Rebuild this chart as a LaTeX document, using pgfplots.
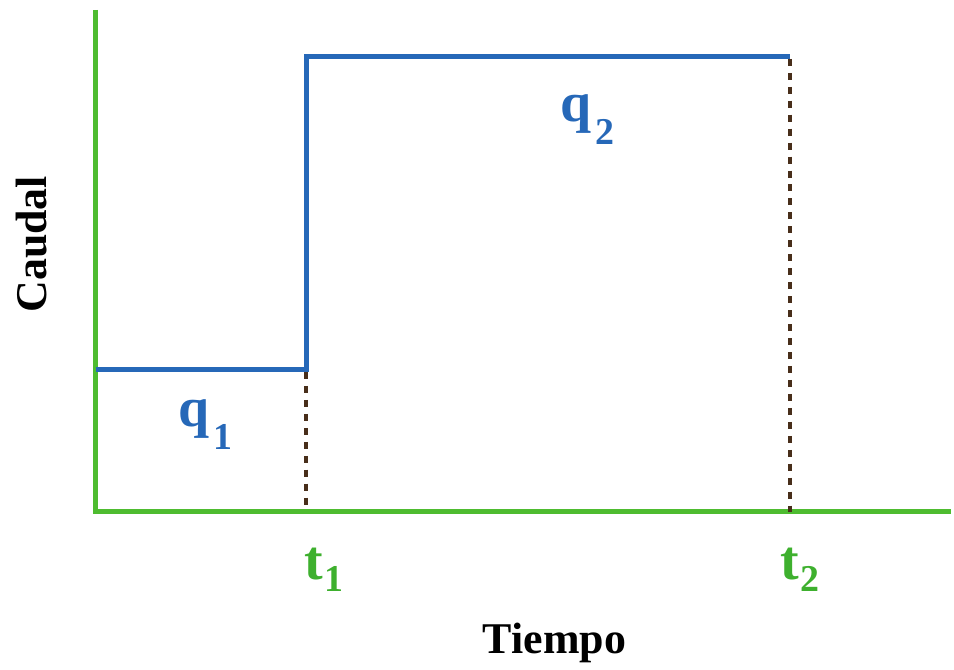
\documentclass[border=0pt]{standalone}
\usepackage{pgfplots}
\pgfplotsset{compat=1.18}
\usepackage{fontspec}
\setmainfont{Liberation Serif}
\definecolor{ejeverde}{RGB}{78,188,48}
\definecolor{etiqverde}{RGB}{62,176,46}
\definecolor{caudalazul}{RGB}{38,104,184}
\definecolor{marron}{RGB}{72,46,26}
\newcommand{\qsub}[1]{q\hspace{2pt}\raisebox{-0.42em}{\fontsize{19}{19}\selectfont #1}}
\newcommand{\tsub}[1]{t\hspace{0.5pt}\raisebox{-0.22em}{\fontsize{19}{19}\selectfont #1}}
\begin{document}
\begin{tikzpicture}
\begin{axis}[
    width=477pt, height=335.5pt,
    scale only axis,
    axis lines=none,
    xmin=0, xmax=954,
    ymin=0, ymax=671,
    clip=false,
]
\path (axis cs:0,0) rectangle (axis cs:954,671);
% ejes
\addplot[ejeverde, line width=2.6pt] coordinates {(96,661) (96,158) (954,158)};
% caudal escalonado
\addplot[caudalazul, line width=2.5pt] coordinates {(96,300) (307,300) (307,614) (792,614)};
% guias punteadas
\addplot[marron, line width=2pt, dash pattern=on 3.5pt off 3.5pt] coordinates {(307,298) (307,158)};
\addplot[marron, line width=2pt, dash pattern=on 3.5pt off 3.5pt] coordinates {(792,612) (792,158)};
% etiquetas
\node[caudalazul, font=\bfseries\fontsize{28}{28}\selectfont] at (axis cs:206,245) {\qsub{1}};
\node[caudalazul, font=\bfseries\fontsize{28}{28}\selectfont] at (axis cs:589,551) {\qsub{2}};
\node[etiqverde, font=\bfseries\fontsize{28}{28}\selectfont] at (axis cs:325,100) {\tsub{1}};
\node[etiqverde, font=\bfseries\fontsize{28}{28}\selectfont] at (axis cs:802,100) {\tsub{2}};
\node[font=\bfseries\fontsize{22}{22}\selectfont] at (axis cs:556,26) {Tiempo};
\node[rotate=90, font=\bfseries\fontsize{22}{22}\selectfont] at (axis cs:32,426) {Caudal};
\end{axis}
\end{tikzpicture}
\end{document}
